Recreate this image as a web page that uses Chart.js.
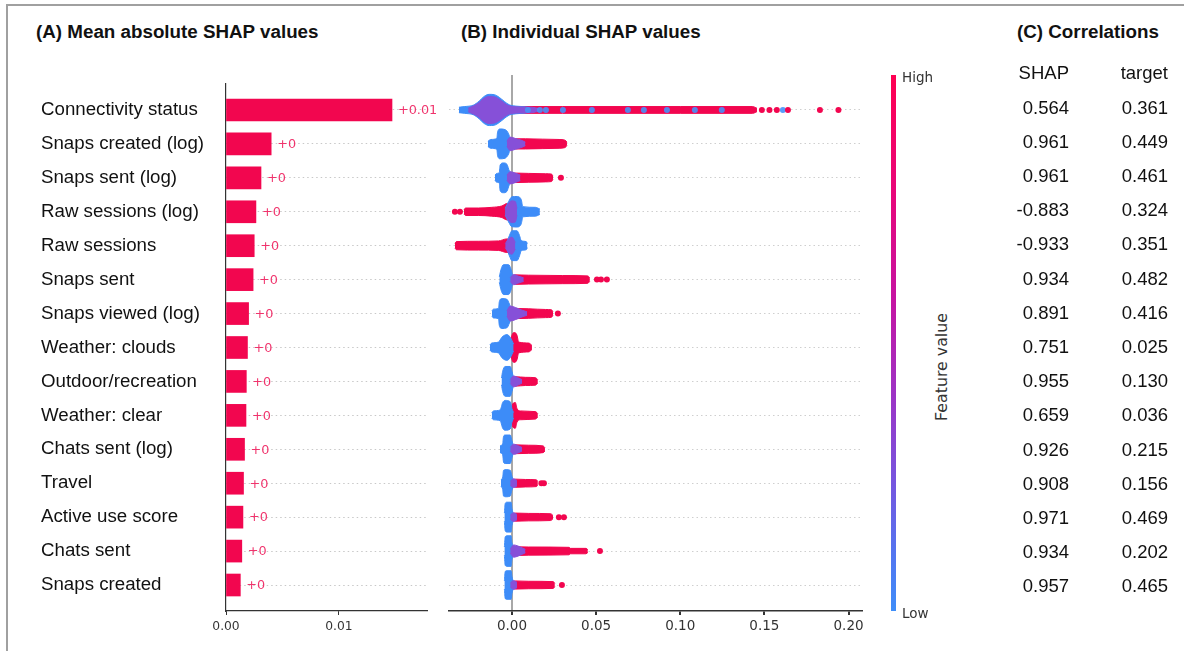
<!DOCTYPE html>
<html>
<head>
<meta charset="utf-8">
<script src="https://cdn.jsdelivr.net/npm/chart.js@4.4.1/dist/chart.umd.min.js"></script>
<style>
  body { margin: 0; width: 1184px; height: 651px; overflow: hidden; background: #fff; position: relative;
         font-family: "Liberation Sans", Arial, sans-serif; color: #111; }
  .frame { position: absolute; left: 6px; top: 4px; width: 1200px; height: 700px;
           border-left: 2px solid #a0a0a0; border-top: 2px solid #a0a0a0; }
  .title { position: absolute; top: 21px; font-weight: bold; font-size: 18.8px; line-height: 22px; white-space: nowrap; }
  canvas { position: absolute; top: 0; }
  #colorbar { position: absolute; left: 891px; top: 75px; width: 5px; height: 536px;
              background: linear-gradient(to bottom, #ff0052 0%, #e8077a 22%, #c514a2 42%, #9c34c6 60%, #7656df 76%, #5277f1 90%, #3f8ef9 100%); }
  .cb { position: absolute; font-family: "DejaVu Sans", sans-serif; font-size: 13.5px; color: #333; line-height: 16px; white-space: nowrap; }
  .cell { position: absolute; font-size: 18.5px; line-height: 22px; text-align: right; white-space: nowrap; }
</style>
</head>
<body>
<div class="frame"></div>
<div class="title" style="left:36px">(A) Mean absolute SHAP values</div>
<div class="title" style="left:461px">(B) Individual SHAP values</div>
<div class="title" style="left:1017px">(C) Correlations</div>
<canvas id="chartA" width="440" height="651" style="left:0"></canvas>
<canvas id="chartB" width="470" height="651" style="left:440px"></canvas>
<div id="colorbar"></div>
<div class="cb" style="left:902px;top:69px">High</div>
<div class="cb" style="left:902px;top:605px">Low</div>
<div class="cb" style="left:942px;top:367px;font-size:15.8px;transform:translate(-50%,-50%) rotate(-90deg)">Feature value</div>
<div id="table"></div>
<script>
// features, top to bottom
const features = ['Connectivity status', 'Snaps created (log)', 'Snaps sent (log)', 'Raw sessions (log)',
  'Raw sessions', 'Snaps sent', 'Snaps viewed (log)', 'Weather: clouds', 'Outdoor/recreation',
  'Weather: clear', 'Chats sent (log)', 'Travel', 'Active use score', 'Chats sent', 'Snaps created'];

// (A) mean |SHAP|
const meanAbsShap = [0.0147, 0.0040, 0.0031, 0.00265, 0.0025, 0.0024, 0.0020, 0.0019, 0.0018,
  0.00177, 0.00164, 0.00155, 0.0015, 0.0014, 0.00127];
const ticksA = [0, 0.01];

// (C) correlations
const corrShap = [0.564, 0.961, 0.961, -0.883, -0.933, 0.934, 0.891, 0.751, 0.955, 0.659, 0.926, 0.908, 0.971, 0.934, 0.957];
const corrTarget = [0.361, 0.449, 0.461, 0.324, 0.351, 0.482, 0.416, 0.025, 0.130, 0.036, 0.215, 0.156, 0.469, 0.202, 0.465];

// (B) beeswarm outlines: [shap value, half spread (rows)] per feature
const ticksB = [0, 0.05, 0.10, 0.15, 0.20];
const blueSwarm = [
  [[-0.0315,0.08],[-0.028,0.1],[-0.023,0.14],[-0.0195,0.26],[-0.0165,0.4],[-0.0135,0.46],[-0.0105,0.45],[-0.0075,0.37],[-0.0045,0.25],[-0.0015,0.15],[0.003,0.11],[0.008,0.09],[0.011,0.05]],
  [[-0.0143,0.08],[-0.0125,0.13],[-0.009,0.16],[-0.0085,0.36],[-0.007,0.44],[-0.004,0.42],[-0.002,0.3],[-0.001,0.16],[0.002,0.12],[0.003,0.06]],
  [[-0.0101,0.08],[-0.009,0.13],[-0.0075,0.16],[-0.007,0.38],[-0.005,0.44],[-0.003,0.4],[-0.0015,0.2],[0.001,0.13],[0.002,0.06]],
  [[-0.004,0.1],[-0.002,0.3],[0.0,0.44],[0.003,0.45],[0.0055,0.36],[0.0065,0.15],[0.014,0.13],[0.0166,0.08]],
  [[-0.003,0.1],[-0.0015,0.3],[0.0,0.44],[0.003,0.44],[0.0045,0.3],[0.0055,0.15],[0.0085,0.12],[0.0092,0.06]],
  [[-0.0075,0.08],[-0.0065,0.3],[-0.005,0.44],[-0.002,0.44],[-0.0005,0.3],[0.0005,0.1]],
  [[-0.0119,0.08],[-0.011,0.13],[-0.008,0.15],[-0.0075,0.35],[-0.006,0.44],[-0.003,0.42],[-0.0015,0.28],[-0.0005,0.15],[0.002,0.1]],
  [[-0.0131,0.08],[-0.012,0.13],[-0.008,0.16],[-0.006,0.3],[-0.003,0.38],[-0.001,0.3],[0.001,0.1]],
  [[-0.0062,0.1],[-0.0055,0.3],[-0.004,0.44],[-0.001,0.44],[0.0,0.3],[0.001,0.1]],
  [[-0.012,0.08],[-0.011,0.13],[-0.007,0.16],[-0.0055,0.38],[-0.004,0.44],[-0.001,0.4],[0.0,0.2],[0.001,0.08]],
  [[-0.0071,0.1],[-0.0055,0.16],[-0.005,0.38],[-0.004,0.42],[-0.001,0.42],[0.0,0.25],[0.001,0.08]],
  [[-0.0065,0.1],[-0.0055,0.18],[-0.005,0.38],[-0.0035,0.4],[-0.001,0.38],[0.0,0.2],[0.001,0.08]],
  [[-0.0045,0.12],[-0.004,0.4],[-0.003,0.44],[-0.0005,0.44],[0.0,0.25],[0.001,0.08]],
  [[-0.0045,0.12],[-0.004,0.42],[-0.003,0.45],[-0.0005,0.45],[0.0,0.25],[0.001,0.08]],
  [[-0.0045,0.12],[-0.004,0.4],[-0.003,0.42],[-0.0005,0.42],[0.0,0.25],[0.001,0.08]]
];
const redSwarm = [
  [[0.001,0.05],[0.004,0.1],[0.03,0.1],[0.1,0.1],[0.143,0.1],[0.1456,0.05]],
  [[-0.001,0.06],[0.002,0.15],[0.008,0.15],[0.018,0.14],[0.028,0.13],[0.0315,0.11],[0.0327,0.05]],
  [[-0.001,0.06],[0.002,0.14],[0.01,0.13],[0.02,0.12],[0.0235,0.11],[0.0244,0.05]],
  [[-0.0285,0.07],[-0.0275,0.11],[-0.02,0.11],[-0.012,0.13],[-0.006,0.17],[-0.003,0.24],[0.0,0.2],[0.002,0.08]],
  [[-0.0339,0.07],[-0.033,0.12],[-0.02,0.13],[-0.008,0.14],[-0.003,0.2],[0.0,0.16],[0.002,0.06]],
  [[-0.0005,0.06],[0.002,0.14],[0.01,0.13],[0.03,0.12],[0.045,0.11],[0.0463,0.05]],
  [[-0.001,0.06],[0.002,0.15],[0.01,0.14],[0.02,0.12],[0.0235,0.11],[0.0244,0.05]],
  [[-0.001,0.1],[0.0,0.36],[0.0015,0.44],[0.003,0.36],[0.004,0.16],[0.01,0.13],[0.0119,0.06]],
  [[-0.0005,0.06],[0.002,0.14],[0.008,0.12],[0.014,0.11],[0.0154,0.05]],
  [[-0.0005,0.1],[0.0005,0.34],[0.002,0.38],[0.003,0.2],[0.005,0.13],[0.014,0.11],[0.0154,0.05]],
  [[-0.0005,0.06],[0.002,0.13],[0.01,0.12],[0.0185,0.1],[0.0196,0.05]],
  [[-0.0005,0.06],[0.002,0.12],[0.008,0.11],[0.0145,0.1],[0.0154,0.05]],
  [[-0.0005,0.06],[0.002,0.12],[0.01,0.11],[0.023,0.1],[0.0244,0.05]],
  [[-0.0005,0.06],[0.002,0.13],[0.01,0.12],[0.034,0.11],[0.0348,0.08],[0.044,0.08],[0.0451,0.04]],
  [[-0.0005,0.06],[0.002,0.12],[0.01,0.11],[0.0245,0.1],[0.0255,0.05]]
];
const purpleSwarm = [
  [[-0.026,0.05],[-0.02,0.2],[-0.017,0.33],[-0.0135,0.4],[-0.0095,0.37],[-0.006,0.26],[-0.002,0.13],[0.004,0.09],[0.012,0.08],[0.016,0.04]],
  [[-0.003,0.08],[-0.001,0.2],[0.002,0.16],[0.006,0.1],[0.008,0.05]],
  [[-0.003,0.08],[-0.001,0.18],[0.002,0.14],[0.005,0.08]],
  [[-0.004,0.06],[-0.002,0.25],[0.0,0.32],[0.002,0.3],[0.003,0.1]],
  [[-0.004,0.06],[-0.002,0.2],[0.0,0.25],[0.002,0.1]],
  [[-0.001,0.06],[0.001,0.15],[0.004,0.1],[0.007,0.05]],
  [[-0.003,0.08],[-0.001,0.22],[0.002,0.18],[0.006,0.1],[0.009,0.05]],
  [],
  [[-0.001,0.06],[0.001,0.16],[0.004,0.1],[0.006,0.05]],
  [],
  [[-0.001,0.06],[0.001,0.15],[0.004,0.1],[0.006,0.05]],
  [[-0.001,0.06],[0.001,0.13],[0.003,0.08]],
  [[-0.001,0.06],[0.001,0.13],[0.003,0.08]],
  [[-0.001,0.06],[0.001,0.18],[0.005,0.12],[0.008,0.05]],
  [[-0.001,0.06],[0.001,0.13],[0.003,0.08]]
];
// single dots: [feature row, shap value]
const highDots = [[0,0.1485],[0,0.153],[0,0.1574],[0,0.164],[0,0.183],[0,0.194],[2,0.0291],[3,-0.0339],[3,-0.0309],
  [5,0.0505],[5,0.0529],[5,0.0564],[6,0.0273],[11,0.0175],[11,0.019],[12,0.0279],[12,0.0309],[13,0.0523],[14,0.0297]];
const lowDots = [[0,0.0095],[0,0.0166],[0,0.0202],[0,0.0303],[0,0.0475],[0,0.0689],[0,0.0784],[0,0.0921],[0,0.1087],[0,0.1247],[0,0.161]];

const RED = '#f2064f';
const BLUE = '#3d8cf8';
const PURPLE = '#8650d8';
const rowTicks = s => { s.ticks = features.map((_, i) => ({value: i})); };

// value labels at the end of each bar
const barValueLabels = {
  id: 'barValueLabels',
  afterDatasetsDraw(chart) {
    const ctx = chart.ctx;
    const meta = chart.getDatasetMeta(0);
    ctx.save();
    ctx.font = '12.8px "DejaVu Sans"';
    ctx.fillStyle = '#f0336c';
    ctx.textBaseline = 'middle';
    ctx.textAlign = 'left';
    meta.data.forEach((bar, i) => {
      ctx.fillText('+' + Number(meanAbsShap[i].toFixed(2)), bar.x + 6, bar.y + 1);
    });
    ctx.restore();
  }
};

new Chart(document.getElementById('chartA'), {
  type: 'bar',
  data: {
    datasets: [{
      data: meanAbsShap.map((v, i) => ({x: v, y: i})),
      backgroundColor: RED,
      borderWidth: 0,
      barThickness: 22
    }]
  },
  options: {
    indexAxis: 'y',
    responsive: false,
    animation: false,
    layout: {padding: {left: 41, right: 13, top: 84, bottom: 10}},
    plugins: {legend: {display: false}, tooltip: {enabled: false}},
    scales: {
      x: {
        type: 'linear', min: 0, max: 0.0178,
        afterBuildTicks: s => { s.ticks = ticksA.map(v => ({value: v})); },
        afterFit: s => { s.height = 30; },
        ticks: {callback: v => v.toFixed(2), font: {family: 'DejaVu Sans', size: 12.3}, color: '#333', padding: 4, maxRotation: 0},
        grid: {drawOnChartArea: false, tickLength: 4, tickColor: '#333'},
        border: {color: '#333', width: 1.2}
      },
      y: {
        type: 'linear', reverse: true, min: -0.766, max: 14.766, offset: false,
        afterBuildTicks: rowTicks,
        afterFit: s => { s.width = 185; },
        ticks: {callback: v => features[v], crossAlign: 'far', autoSkip: false,
                font: {family: 'Liberation Sans', size: 18.7}, color: '#111'},
        grid: {color: '#c8c8c8', drawTicks: false, offset: false},
        border: {color: '#333', width: 1.2, dash: [1.5, 3]}
      }
    }
  },
  plugins: [barValueLabels]
});

// beeswarm: each outline is an upper and lower edge filled between
const datasetsB = [
  {data: highDots.map(([r, x]) => ({x: x, y: r})), showLine: false, pointRadius: 3,
   pointBackgroundColor: RED, pointBorderWidth: 0, order: 0},
  {data: lowDots.map(([r, x]) => ({x: x, y: r})), showLine: false, pointRadius: 3,
   pointBackgroundColor: 'rgba(70,145,250,0.9)', pointBorderWidth: 0, order: 0}
];
[[purpleSwarm, PURPLE, 1], [blueSwarm, BLUE, 2], [redSwarm, RED, 3]].forEach(([profiles, color, order]) => {
  profiles.forEach((prof, row) => {
    if (!prof.length) return;
    datasetsB.push({data: prof.map(([x, h]) => ({x: x, y: row - h})), fill: '+1', backgroundColor: color,
      borderColor: color, borderWidth: 1, pointRadius: 0, cubicInterpolationMode: 'monotone', order: order});
    datasetsB.push({data: prof.map(([x, h]) => ({x: x, y: row + h})), fill: false,
      borderColor: color, borderWidth: 1, pointRadius: 0, cubicInterpolationMode: 'monotone', order: order});
  });
});

new Chart(document.getElementById('chartB'), {
  type: 'line',
  data: {datasets: datasetsB},
  options: {
    responsive: false,
    animation: false,
    layout: {padding: {left: 9, right: 48, top: 75, bottom: 10}},
    plugins: {legend: {display: false}, tooltip: {enabled: false}},
    scales: {
      x: {
        type: 'linear', min: -0.0374, max: 0.208,
        afterBuildTicks: s => { s.ticks = ticksB.map(v => ({value: v})); },
        afterFit: s => { s.height = 30; },
        ticks: {callback: v => v.toFixed(2), font: {family: 'DejaVu Sans', size: 13.5}, color: '#333', padding: 3, maxRotation: 0},
        grid: {color: c => (c.tick && c.tick.value === 0) ? '#a8a8a8' : 'rgba(0,0,0,0)', lineWidth: 2,
               tickLength: 4, tickColor: '#333'},
        border: {color: '#333', width: 1.5}
      },
      y: {
        type: 'linear', reverse: true, min: -1.03, max: 14.766,
        afterBuildTicks: rowTicks,
        afterFit: s => { s.width = 0; },
        ticks: {display: false},
        grid: {color: '#cfcfcf', drawTicks: false},
        border: {display: false, dash: [1.5, 3]}
      }
    }
  }
});

// (C) correlation table
const table = document.getElementById('table');
function cell(text, right, cy) {
  const d = document.createElement('div');
  d.className = 'cell';
  d.textContent = text;
  d.style.left = (right - 100) + 'px';
  d.style.width = '100px';
  d.style.top = (cy - 11) + 'px';
  table.appendChild(d);
}
cell('SHAP', 1069, 73);
cell('target', 1168, 73);
corrShap.forEach((v, i) => {
  cell(v.toFixed(3), 1069, 107.5 + i * 34.2);
  cell(corrTarget[i].toFixed(3), 1168, 107.5 + i * 34.2);
});
</script>
</body>
</html>
